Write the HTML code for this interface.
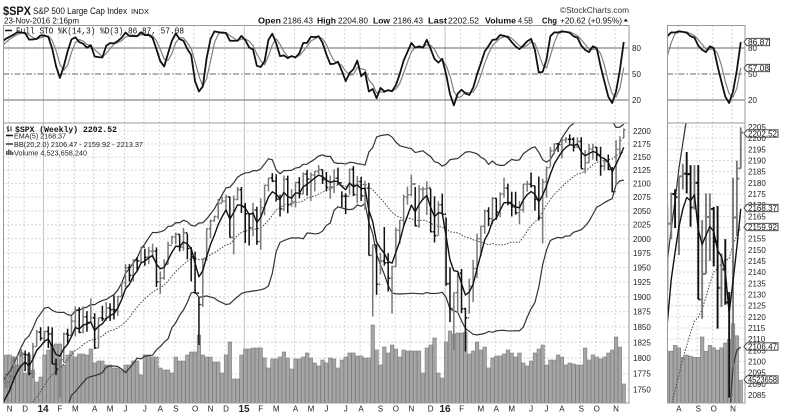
<!DOCTYPE html>
<html><head><meta charset="utf-8">
<style>
html,body{margin:0;padding:0;background:#fff;width:790px;height:415px;overflow:hidden;position:relative}
svg{display:block;position:absolute;left:0;top:0;font-family:"Liberation Sans",sans-serif}
.ax{font-size:8px;fill:#222}
.mono{font-family:"Liberation Mono",monospace}
</style></head><body>
<svg id="c" width="790" height="415" viewBox="0 0 790 415" xmlns="http://www.w3.org/2000/svg" overflow="hidden">
<defs>
<clipPath id="cm1"><rect x="3" y="25" width="626" height="98"/></clipPath>
<clipPath id="cm2"><rect x="3" y="123" width="626" height="280"/></clipPath>
<clipPath id="cr1"><rect x="667" y="25" width="78" height="98"/></clipPath>
<clipPath id="cr2"><rect x="667" y="123" width="78" height="280"/></clipPath>
</defs>
<rect x="0" y="0" width="790" height="415" fill="#fff"/>
<g id="ggrid"></g>
<g id="gm1" clip-path="url(#cm1)"></g>
<g id="gr1" clip-path="url(#cr1)"></g>
<g id="gm2" clip-path="url(#cm2)"></g>
<g id="gr2" clip-path="url(#cr2)"></g>
<g id="gframe" fill="none" stroke="#999" stroke-width="1">
<rect x="3.5" y="25.5" width="625.5" height="377.5"/>
<line x1="3.5" y1="123" x2="629" y2="123"/>
<rect x="667.5" y="25.5" width="77.5" height="377.5"/>
<line x1="667.5" y1="123" x2="745" y2="123"/>
</g>

<!-- header -->
<g fill="#111">
<text x="3" y="15" font-size="11.5" font-weight="bold" textLength="28" lengthAdjust="spacingAndGlyphs">$SPX</text>
<text x="33" y="14" font-size="9" textLength="94" lengthAdjust="spacingAndGlyphs">S&amp;P 500 Large Cap Index</text>
<text x="131" y="14" font-size="7.5" textLength="18" lengthAdjust="spacingAndGlyphs">INDX</text>
<text x="4" y="23.5" font-size="8" textLength="75" lengthAdjust="spacingAndGlyphs">23-Nov-2016 2:16pm</text>
<text x="560" y="13" font-size="8" fill="#333" textLength="69" lengthAdjust="spacingAndGlyphs">©StockCharts.com</text>
<g font-size="8.5">
<text x="258" y="23.5" font-weight="bold" textLength="23" lengthAdjust="spacingAndGlyphs">Open</text>
<text x="283" y="23.5" textLength="30" lengthAdjust="spacingAndGlyphs">2186.43</text>
<text x="317" y="23.5" font-weight="bold" textLength="19" lengthAdjust="spacingAndGlyphs">High</text>
<text x="338" y="23.5" textLength="30" lengthAdjust="spacingAndGlyphs">2204.80</text>
<text x="373" y="23.5" font-weight="bold" textLength="17" lengthAdjust="spacingAndGlyphs">Low</text>
<text x="393" y="23.5" textLength="30" lengthAdjust="spacingAndGlyphs">2186.43</text>
<text x="428" y="23.5" font-weight="bold" textLength="19" lengthAdjust="spacingAndGlyphs">Last</text>
<text x="448" y="23.5" textLength="31" lengthAdjust="spacingAndGlyphs">2202.52</text>
<text x="485" y="23.5" font-weight="bold" textLength="31" lengthAdjust="spacingAndGlyphs">Volume</text>
<text x="518" y="23.5" textLength="15" lengthAdjust="spacingAndGlyphs">4.5B</text>
<text x="542" y="23.5" font-weight="bold" textLength="15" lengthAdjust="spacingAndGlyphs">Chg</text>
<text x="560" y="23.5" textLength="62" lengthAdjust="spacingAndGlyphs">+20.62 (+0.95%)</text>
</g>
<polygon points="623.5,21.5 628,21.5 625.75,18.5" fill="#222"/>
</g>

<!-- STO legend -->
<line x1="5" y1="30.5" x2="12" y2="30.5" stroke="#111" stroke-width="1.5"/>
<text class="mono" x="16" y="33.5" font-size="9" fill="#111" textLength="168" lengthAdjust="spacingAndGlyphs">Full STO %K(14,3) %D(3) 86.87, 57.08</text>

<!-- price legend -->
<g stroke="#222" stroke-width="1">
<line x1="8" y1="126" x2="8" y2="132"/><line x1="6.5" y1="128" x2="8" y2="128"/><line x1="8" y1="130.5" x2="9.5" y2="130.5"/>
<line x1="11" y1="126.5" x2="11" y2="131"/>
</g>
<text class="mono" x="15" y="132" font-size="8.5" font-weight="bold" fill="#111" textLength="102" lengthAdjust="spacingAndGlyphs">$SPX (Weekly) 2202.52</text>
<line x1="6" y1="135.5" x2="13" y2="135.5" stroke="#111" stroke-width="1.5"/>
<text x="14" y="138.6" font-size="7.5" fill="#222" textLength="52" lengthAdjust="spacingAndGlyphs">EMA(5) 2168.37</text>
<line x1="6" y1="144" x2="13" y2="144" stroke="#333" stroke-width="1.5"/>
<text x="14" y="147" font-size="7.5" fill="#222" textLength="129" lengthAdjust="spacingAndGlyphs">BB(20,2.0) 2106.47 - 2159.92 - 2213.37</text>
<g fill="#555"><rect x="6" y="151" width="1.6" height="4"/><rect x="8" y="149.5" width="1.6" height="5.5"/><rect x="10" y="150.5" width="1.6" height="4.5"/><rect x="12" y="152" width="1.4" height="3"/></g>
<text x="14" y="155.5" font-size="7.5" fill="#222" textLength="73" lengthAdjust="spacingAndGlyphs">Volume 4,523,658,240</text>

<!-- STO axis labels -->
<g class="ax">
<text x="632" y="51">80</text><text x="632" y="77">50</text><text x="632" y="103">20</text>
<text x="748" y="51">80</text><text x="748" y="77">50</text><text x="748" y="103">20</text>
</g>

<!-- main price axis -->
<g class="ax">
<text x="633" y="134">2200</text>
<text x="633" y="146.9">2175</text>
<text x="633" y="160">2150</text>
<text x="633" y="173.2">2125</text>
<text x="633" y="186.6">2100</text>
<text x="633" y="200.1">2075</text>
<text x="633" y="213.8">2050</text>
<text x="633" y="227.7">2025</text>
<text x="633" y="241.8">2000</text>
<text x="633" y="256">1975</text>
<text x="633" y="270.4">1950</text>
<text x="633" y="285">1925</text>
<text x="633" y="299.8">1900</text>
<text x="633" y="314.7">1875</text>
<text x="633" y="329.9">1850</text>
<text x="633" y="345.3">1825</text>
<text x="633" y="360.9">1800</text>
<text x="633" y="376.7">1775</text>
<text x="633" y="392.7">1750</text>
</g>

<!-- right price axis -->
<g class="ax">
<text x="748" y="130">2205</text>
<text x="748" y="141.2">2200</text>
<text x="748" y="152.3">2195</text>
<text x="748" y="163.5">2190</text>
<text x="748" y="174.7">2185</text>
<text x="748" y="185.8">2180</text>
<text x="748" y="197">2175</text>
<text x="748" y="208.2">2170</text>
<text x="748" y="219.3">2165</text>
<text x="748" y="230.5">2160</text>
<text x="748" y="241.7">2155</text>
<text x="748" y="252.8">2150</text>
<text x="748" y="264">2145</text>
<text x="748" y="275.2">2140</text>
<text x="748" y="286.3">2135</text>
<text x="748" y="297.5">2130</text>
<text x="748" y="308.6">2125</text>
<text x="748" y="319.8">2120</text>
<text x="748" y="331">2115</text>
<text x="748" y="342.1">2110</text>
<text x="748" y="353.3">2105</text>
<text x="748" y="364.5">2100</text>
<text x="748" y="375.6">2095</text>
<text x="748" y="386.8">2090</text>
<text x="748" y="398">2085</text>
</g>

<!-- tags -->
<g stroke="#333" stroke-width="0.9" fill="#fff">
<polygon points="744,42 747,38.3 769.5,38.3 769.5,45.7 747,45.7"/>
<polygon points="744,68 747,64.3 769.5,64.3 769.5,71.7 747,71.7"/>
<polygon points="744,133.5 747,129.8 778,129.8 778,137.2 747,137.2"/>
<polygon points="744,208 747,204.3 778,204.3 778,211.7 747,211.7"/>
<polygon points="744,227 747,223.3 778,223.3 778,230.7 747,230.7"/>
<polygon points="744,346.5 747,342.8 778,342.8 778,350.2 747,350.2"/>
<polygon points="744,379.5 747,375.8 778,375.8 778,383.2 747,383.2"/>
</g>
<g font-size="8" fill="#111">
<text x="748" y="44.8" textLength="21" lengthAdjust="spacingAndGlyphs">86.87</text>
<text x="748" y="70.8" textLength="21" lengthAdjust="spacingAndGlyphs">57.08</text>
<text x="748" y="136.3" textLength="29" lengthAdjust="spacingAndGlyphs">2202.52</text>
<text x="748" y="210.8" textLength="29" lengthAdjust="spacingAndGlyphs">2168.37</text>
<text x="748" y="229.8" textLength="29" lengthAdjust="spacingAndGlyphs">2159.92</text>
<text x="748" y="349.3" textLength="29" lengthAdjust="spacingAndGlyphs">2106.47</text>
<text x="748" y="382.3" textLength="29" lengthAdjust="spacingAndGlyphs">4523658</text>
</g>

<!-- x axis labels -->
<g class="ax" text-anchor="middle" font-size="8">
<text x="9.7" y="411.5">N</text><text x="25.15" y="411.5">D</text><text x="43" y="412" font-weight="bold" font-size="10">14</text>
<text x="59.9" y="411.5">F</text><text x="75.35" y="411.5">M</text><text x="94.66" y="411.5">A</text><text x="110.1" y="411.5">M</text>
<text x="125.56" y="411.5">J</text><text x="144.87" y="411.5">J</text><text x="160.3" y="411.5">A</text><text x="175.77" y="411.5">S</text>
<text x="195.08" y="411.5">O</text><text x="210.5" y="411.5">N</text><text x="225.97" y="411.5">D</text><text x="244" y="412" font-weight="bold" font-size="10">15</text>
<text x="260.73" y="411.5">F</text><text x="276.18" y="411.5">M</text><text x="295.49" y="411.5">A</text><text x="310.9" y="411.5">M</text>
<text x="326.38" y="411.5">J</text><text x="345.7" y="411.5">J</text><text x="361.1" y="411.5">A</text><text x="380.45" y="411.5">S</text>
<text x="395.9" y="411.5">O</text><text x="411.35" y="411.5">N</text><text x="430.66" y="411.5">D</text><text x="445" y="412" font-weight="bold" font-size="10">16</text>
<text x="461.55" y="411.5">F</text><text x="480.86" y="411.5">M</text><text x="496.3" y="411.5">A</text><text x="511.76" y="411.5">M</text>
<text x="531.07" y="411.5">J</text><text x="546.5" y="411.5">J</text><text x="561.97" y="411.5">A</text><text x="581.28" y="411.5">S</text>
<text x="596.72" y="411.5">O</text><text x="616.03" y="411.5">N</text>
<text x="678.97" y="411.5">A</text><text x="698.28" y="411.5">S</text><text x="713.72" y="411.5">O</text><text x="733.03" y="411.5">N</text>
</g>
</svg>
<script>
(function(){
var NS="http://www.w3.org/2000/svg";
function el(tag,attrs,parent){var e=document.createElementNS(NS,tag);for(var a in attrs)e.setAttribute(a,attrs[a]);parent.appendChild(e);return e;}
var pre=[1626.7,1592.4,1606.3,1631.9,1680.2,1692.1,1691.7,1709.7,1691.4,1655.8,1663.5,1633.0,1655.2,1688.0,1709.9,1691.8,1690.5,1703.2,1744.5,1759.8];
var D=[
[1775.2,1752.7,1761.6],[1774.5,1746.2,1770.6],[1802.3,1760.6,1798.2],[1804.8,1777.2,1804.8],[1813.6,1800.9,1805.8],
[1811.5,1779.1,1805.1],[1809.0,1772.3,1775.3],[1823.8,1768.0,1818.3],[1844.9,1818.3,1841.4],[1849.4,1827.7,1831.4],
[1843.2,1823.7,1842.4],[1850.8,1815.5,1838.7],[1849.3,1790.3,1790.3],[1798.8,1772.7,1782.6],[1798.0,1737.9,1797.0],
[1840.8,1791.8,1838.6],[1846.9,1822.5,1836.3],[1867.9,1834.4,1859.5],[1883.6,1834.4,1878.0],[1882.4,1839.6,1841.1],
[1884.0,1839.6,1866.5],[1875.9,1842.1,1857.6],[1897.3,1858.1,1865.1],[1872.5,1814.4,1815.7],[1865.0,1816.0,1864.9],
[1884.9,1859.7,1863.4],[1891.3,1859.8,1881.1],[1889.1,1859.8,1878.5],[1902.2,1862.4,1877.9],[1901.3,1868.1,1900.5],
[1924.0,1900.3,1923.6],[1955.6,1916.0,1949.4],[1955.6,1925.8,1936.2],[1963.9,1925.8,1962.9],[1968.2,1944.7,1961.0],
[1985.6,1958.2,1985.4],[1982.5,1952.9,1967.6],[1985.6,1955.6,1978.2],[1991.4,1965.8,1978.3],[1984.9,1916.4,1925.2],
[1942.9,1904.8,1931.6],[1964.0,1928.8,1955.1],[1995.2,1955.2,1988.4],[2005.0,1990.5,2003.4],[2011.2,1990.1,2007.7],
[2007.7,1977.9,1985.5],[2019.3,1978.6,2010.4],[2009.1,1964.0,1982.9],[1985.2,1926.0,1967.9],[1977.4,1905.0,1906.1],
[1898.7,1820.7,1886.8],[1965.3,1883.0,1964.6],[2018.2,1961.3,2018.1],[2034.3,2001.0,2031.9],[2041.3,2030.2,2039.8],
[2071.5,2034.5,2063.5],[2075.8,2064.8,2067.6],[2079.5,2049.6,2075.4],[2075.8,2002.3,2002.3],[2077.9,1972.6,2070.7],
[2093.6,2069.3,2088.8],[2093.6,2046.0,2058.2],
[2064.4,1992.4,2044.8],[2046.2,1988.1,2019.4],[2064.6,2004.5,2051.8],[2057.6,1989.2,1995.0],[2072.4,1980.9,2055.5],
[2097.0,2041.9,2097.0],[2110.6,2085.4,2110.3],[2119.6,2103.0,2104.5],[2117.5,2067.3,2071.3],[2079.5,2039.7,2053.4],
[2114.9,2049.3,2108.1],[2114.9,2045.5,2061.0],[2089.8,2057.6,2067.0],[2102.6,2056.1,2102.1],[2111.9,2072.4,2081.2],
[2120.9,2079.9,2117.7],[2125.9,2077.5,2108.3],[2120.9,2067.9,2116.1],[2123.9,2085.7,2122.7],[2134.7,2117.7,2126.1],
[2126.2,2099.2,2107.4],[2121.9,2085.7,2092.8],[2115.0,2072.1,2094.1],[2126.6,2082.1,2110.0],[2129.9,2097.4,2101.5],
[2085.7,2056.6,2076.8],[2082.1,2044.0,2076.6],[2128.0,2079.7,2126.6],[2132.8,2077.1,2079.7],[2114.2,2063.5,2103.8],
[2112.7,2067.9,2077.6],[2105.4,2052.1,2091.5],[2101.6,1970.9,1970.9],[1989.6,1867.0,1988.9],[1989.0,1903.1,1921.2],
[1975.0,1937.9,1961.1],[2020.9,1953.0,1958.1],[1974.8,1908.8,1931.3],[1953.0,1871.9,1951.4],[2020.1,1951.4,2014.9],
[2033.5,1990.7,2033.1],[2079.7,2020.9,2075.2],[2094.3,2061.1,2079.4],[2116.5,2076.7,2099.2],[2093.8,2022.0,2023.0],
[2097.1,2019.4,2089.2],[2094.1,2070.3,2090.1],[2104.3,2042.4,2091.7],[2090.4,2011.3,2012.4],[2076.7,1993.3,2005.6],
[2067.4,2005.9,2061.0],[2081.6,2043.6,2043.9],
[2038.2,1918.5,1922.0],[1950.3,1857.8,1880.3],[1906.9,1812.3,1906.9],[1940.2,1872.7,1940.2],[1947.2,1872.7,1880.0],
[1881.6,1810.1,1864.8],[1930.7,1871.4,1917.8],[1963.0,1891.0,1948.1],[2009.1,1931.8,2000.0],[2022.4,1969.3,2022.2],
[2052.4,2008.9,2049.6],[2056.6,2022.5,2035.9],[2075.1,2026.1,2072.8],[2073.0,2033.8,2047.6],[2083.9,2038.6,2080.7],
[2111.1,2073.7,2091.6],[2099.9,2060.2,2065.3],[2084.9,2039.7,2057.1],[2084.9,2043.1,2046.6],[2068.0,2025.9,2052.3],
[2099.3,2047.3,2099.1],[2105.3,2085.1,2099.1],[2120.6,2092.5,2096.1],[2096.1,2050.4,2071.2],[2113.3,2032.6,2037.4],
[2108.7,1991.7,2103.0],[2131.7,2074.0,2129.9],[2169.1,2131.7,2161.7],[2175.6,2154.8,2175.0],[2177.1,2159.7,2173.6],
[2182.9,2147.6,2182.9],[2188.5,2177.0,2184.1],[2193.8,2175.3,2183.9],[2187.9,2160.4,2169.0],[2187.9,2168.0,2180.0],
[2187.9,2127.8,2127.8],[2163.3,2119.1,2139.2],[2175.3,2139.2,2164.7],[2175.3,2145.0,2168.3],[2169.2,2142.6,2153.7],
[2169.6,2114.7,2133.0],[2148.4,2124.4,2141.2],[2154.8,2125.4,2126.4],[2131.1,2083.8,2085.2],[2182.3,2097.6,2164.5],
[2189.9,2156.1,2181.9],[2204.8,2186.4,2202.5]
];
var VY=[355,355,357,365,352,373,355,370,382,377,
355,350,345,344,344,365,355,351,357,354,354,355,349,363,361,361,365,365,368,368,370,365,365,361,361,375,355,355,357,357,368,370,370,373,357,361,361,355,352,352,335,355,357,357,362,362,373,355,342,379,379,355,
349,349,348,348,348,358,368,359,359,357,352,358,369,359,359,357,353,358,363,366,360,363,358,359,368,360,357,353,353,356,356,358,358,325,350,365,347,353,345,349,357,350,351,351,351,351,373,348,345,338,373,378,
342,331,334,333,333,332,354,351,342,350,347,368,358,356,356,354,350,353,357,353,363,366,361,353,349,345,365,360,360,355,357,365,363,364,365,365,348,360,355,357,359,357,353,350,337,347,384];
var O=[],H=[],L=[],C=[],pc=1620,i,j;
for(i=0;i<pre.length;i++){var c=pre[i];O.push(pc);H.push(Math.max(pc,c)*1.008);L.push(Math.min(pc,c)*0.992);C.push(c);pc=c;}
for(i=0;i<D.length;i++){O.push(pc);H.push(D[i][0]);L.push(D[i][1]);C.push(D[i][2]);pc=D[i][2];}
O[O.length-1]=2186.43;
var N=C.length,P=pre.length;
var ema=[C[0]],a=2/6;for(i=1;i<N;i++)ema.push(ema[i-1]+a*(C[i]-ema[i-1]));
var sma=[],up=[],lo=[];
for(i=0;i<N;i++){if(i<19){sma.push(null);up.push(null);lo.push(null);continue;}
 var s=0;for(j=i-19;j<=i;j++)s+=C[j];var m=s/20,v=0;for(j=i-19;j<=i;j++)v+=(C[j]-m)*(C[j]-m);var sd=Math.sqrt(v/20);
 sma.push(m);up.push(m+2*sd);lo.push(m-2*sd);}
var fk=[],K=[],DD=[];
for(i=0;i<N;i++){if(i<13){fk.push(null);continue;}var hh=-1e9,ll=1e9;for(j=i-13;j<=i;j++){if(H[j]>hh)hh=H[j];if(L[j]<ll)ll=L[j];}fk.push((C[i]-ll)/(hh-ll)*100);}
for(i=0;i<N;i++)K.push(i<15?null:(fk[i]+fk[i-1]+fk[i-2])/3);
for(i=0;i<N;i++)DD.push(i<17?null:(K[i]+K[i-1]+K[i-2])/3);
function X(i){return 9.7+(i-P-1)*3.862;}
function yM(v){return 131+Math.log(2200/v)*1130.6;}
function yR(v){return 127+(2205-v)*2.233;}
function yS(v){return 100-(v-20)*0.86667;}
function path(arr,from,xo,yf,ymin,ymax){
 var pts=[];for(var i=from;i<N;i++){if(arr[i]==null)continue;pts.push([X(i)+xo,yf(arr[i])]);}
 var d='',lastEnd=null;
 for(var k=0;k+1<pts.length;k++){var p=pts[k],q=pts[k+1],tlo=0,thi=1;
  if(p[1]===q[1]){if(p[1]<ymin||p[1]>ymax)continue;}
  else{var t1=(ymin-p[1])/(q[1]-p[1]),t2=(ymax-p[1])/(q[1]-p[1]);tlo=Math.max(0,Math.min(t1,t2));thi=Math.min(1,Math.max(t1,t2));if(tlo>=thi)continue;}
  var sx=p[0]+tlo*(q[0]-p[0]),sy=p[1]+tlo*(q[1]-p[1]),ex=p[0]+thi*(q[0]-p[0]),ey=p[1]+thi*(q[1]-p[1]);
  if(!(lastEnd&&Math.abs(lastEnd[0]-sx)<1e-6&&Math.abs(lastEnd[1]-sy)<1e-6))d+='M'+sx.toFixed(2)+','+sy.toFixed(2);
  d+='L'+ex.toFixed(2)+','+ey.toFixed(2);lastEnd=[ex,ey];}
 return d||'M0,0';}
var gg=document.getElementById('ggrid'),gm1=document.getElementById('gm1'),gm2=document.getElementById('gm2'),gr1=document.getElementById('gr1'),gr2=document.getElementById('gr2');
var mk=[0,4,9,13,17,22,26,30,35,39,43,48,52,56,61,65,69,74,78,82,87,91,96,100,104,109,113,117,122,126,130,135,139,143,148,152,157];
var yrs={9:1,61:1,113:1};
for(i=0;i<mk.length;i++){var x=9.7+mk[i]*3.862-1;
 if(yrs[mk[i]])el('line',{x1:x,y1:25,x2:x,y2:403,stroke:'#c2c2c2','stroke-width':1},gg);
 else el('line',{x1:x,y1:25,x2:x,y2:403,stroke:'#d4d4d4','stroke-width':1,'stroke-dasharray':'2,2'},gg);
 if(mk[i]>=143){el('line',{x1:x+117,y1:25,x2:x+117,y2:403,stroke:'#d4d4d4','stroke-width':1,'stroke-dasharray':'2,2'},gg);}
}
for(var v=1750;v<=2200;v+=25){var y=yM(v);el('line',{x1:3,y1:y,x2:629,y2:y,stroke:'#d4d4d4','stroke-width':1,'stroke-dasharray':'2,2'},gg);}
for(v=2085;v<=2205;v+=5){var y2=yR(v);el('line',{x1:667,y1:y2,x2:745,y2:y2,stroke:'#d8d8d8','stroke-width':1,'stroke-dasharray':'2,2'},gg);}
function sto(g,xo,x1,x2,from){
 el('line',{x1:x1,y1:48,x2:x2,y2:48,stroke:'#6a6a6a','stroke-width':1},g);
 el('line',{x1:x1,y1:100,x2:x2,y2:100,stroke:'#6a6a6a','stroke-width':1},g);
 el('line',{x1:x1,y1:74,x2:x2,y2:74,stroke:'#6a6a6a','stroke-width':1,'stroke-dasharray':'6,2,1.5,2'},g);
 el('path',{d:path(DD,from,xo,yS,22,126),fill:'none',stroke:'#808080','stroke-width':1.2,'stroke-linejoin':'round'},g);
 el('path',{d:path(K,from,xo,yS,22,126),fill:'none',stroke:'#111','stroke-width':1.8,'stroke-linejoin':'round'},g);
}
sto(gm1,0,3,629,P-2);
sto(gr1,117,667,745,P+137);
for(i=P;i<N;i++){var k=i-P-1,x0=X(i),top=VY[i-P];
 el('rect',{x:(x0-1.75).toFixed(2),y:top,width:3.5,height:403-top,fill:'#a6a6a6',stroke:'#7c7c7c','stroke-width':0.6},gm2);
 if(k>=138){var t2=403-1.2*(403-top);el('rect',{x:(x0+117-1.75).toFixed(2),y:t2,width:3.5,height:403-t2,fill:'#a6a6a6',stroke:'#7c7c7c','stroke-width':0.6},gr2);}
}
function cl(y){return Math.max(120,Math.min(406,y));}
function overlays(g,xo,yf,from,wb,tk){
 el('path',{d:path(up,from,xo,yf,120,406),fill:'none',stroke:'#333','stroke-width':1.2},g);
 el('path',{d:path(lo,from,xo,yf,120,406),fill:'none',stroke:'#333','stroke-width':1.2},g);
 el('path',{d:path(sma,from,xo,yf,120,406),fill:'none',stroke:'#444','stroke-width':1,'stroke-dasharray':'1.5,1.5'},g);
 for(var i=Math.max(from,P);i<N;i++){var x=X(i)+xo,col=(C[i]>=C[i-1])?'#7a7a7a':'#111';
  var yh=yf(H[i]),yl=yf(L[i]);if(yl<120||yh>406)continue;
  var d='M'+x.toFixed(2)+','+cl(yh).toFixed(2)+'L'+x.toFixed(2)+','+cl(yl).toFixed(2);
  var yo=yf(O[i]),yc=yf(C[i]);
  if(yo>=120&&yo<=406)d+='M'+(x-tk).toFixed(2)+','+yo.toFixed(2)+'L'+x.toFixed(2)+','+yo.toFixed(2);
  if(yc>=120&&yc<=406)d+='M'+x.toFixed(2)+','+yc.toFixed(2)+'L'+(x+tk).toFixed(2)+','+yc.toFixed(2);
  el('path',{d:d,fill:'none',stroke:col,'stroke-width':wb},g);}
 el('path',{d:path(ema,from,xo,yf,120,406),fill:'none',stroke:'#111','stroke-width':1.4,'stroke-linejoin':'round'},g);
}
overlays(gm2,0,yM,P-2,1.5,1.7);
overlays(gr2,117,yR,P+137,1.9,2.5);
})();
</script>
</body></html>
